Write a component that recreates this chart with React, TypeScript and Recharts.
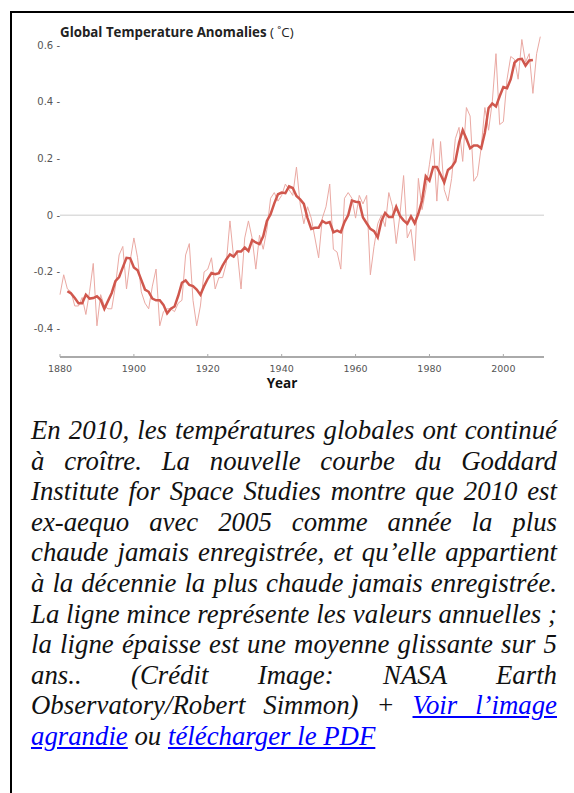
import React from 'react';
import { LineChart, Line, XAxis, YAxis, ReferenceLine } from 'recharts';

const years = [
  1880, 1881, 1882, 1883, 1884, 1885, 1886, 1887, 1888, 1889,
  1890, 1891, 1892, 1893, 1894, 1895, 1896, 1897, 1898, 1899,
  1900, 1901, 1902, 1903, 1904, 1905, 1906, 1907, 1908, 1909,
  1910, 1911, 1912, 1913, 1914, 1915, 1916, 1917, 1918, 1919,
  1920, 1921, 1922, 1923, 1924, 1925, 1926, 1927, 1928, 1929,
  1930, 1931, 1932, 1933, 1934, 1935, 1936, 1937, 1938, 1939,
  1940, 1941, 1942, 1943, 1944, 1945, 1946, 1947, 1948, 1949,
  1950, 1951, 1952, 1953, 1954, 1955, 1956, 1957, 1958, 1959,
  1960, 1961, 1962, 1963, 1964, 1965, 1966, 1967, 1968, 1969,
  1970, 1971, 1972, 1973, 1974, 1975, 1976, 1977, 1978, 1979,
  1980, 1981, 1982, 1983, 1984, 1985, 1986, 1987, 1988, 1989,
  1990, 1991, 1992, 1993, 1994, 1995, 1996, 1997, 1998, 1999,
  2000, 2001, 2002, 2003, 2004, 2005, 2006, 2007, 2008, 2009,
  2010,
];

// annual anomalies (°C)
const annual = [
  -0.28, -0.21, -0.26, -0.27, -0.32, -0.32, -0.29, -0.35, -0.27, -0.17,
  -0.39, -0.28, -0.32, -0.33, -0.33, -0.25, -0.14, -0.11, -0.26, -0.16,
  -0.08, -0.15, -0.27, -0.31, -0.33, -0.25, -0.19, -0.39, -0.34, -0.33,
  -0.33, -0.34, -0.31, -0.30, -0.14, -0.10, -0.30, -0.39, -0.32, -0.20,
  -0.19, -0.15, -0.26, -0.22, -0.22, -0.17, -0.02, -0.15, -0.13, -0.26,
  -0.08, -0.02, -0.08, -0.19, -0.07, -0.12, -0.05, 0.06, 0.08, 0.05,
  0.07, 0.11, 0.09, 0.07, 0.17, 0.04, -0.03, 0.03, -0.01, -0.08,
  -0.15, -0.01, 0.03, 0.11, -0.12, -0.13, -0.19, 0.06, 0.08, 0.06,
  -0.01, 0.07, 0.04, 0.07, -0.21, -0.11, -0.03, 0.0, -0.04, 0.08,
  0.03, -0.10, 0.0, 0.14, -0.08, -0.05, -0.16, 0.13, 0.02, 0.09,
  0.18, 0.27, 0.05, 0.26, 0.09, 0.05, 0.13, 0.27, 0.31, 0.19,
  0.38, 0.35, 0.12, 0.14, 0.24, 0.38, 0.30, 0.40, 0.57, 0.32,
  0.33, 0.48, 0.56, 0.55, 0.48, 0.62, 0.54, 0.57, 0.43, 0.57,
  0.63,
];

// 5-year running mean (°C)
const fiveYear = [
  null, null, -0.268, -0.276, -0.292, -0.31, -0.31, -0.28, -0.294, -0.292,
  -0.286, -0.298, -0.33, -0.302, -0.274, -0.232, -0.218, -0.184, -0.15, -0.152,
  -0.184, -0.194, -0.228, -0.262, -0.27, -0.294, -0.3, -0.3, -0.316, -0.346,
  -0.33, -0.322, -0.284, -0.238, -0.23, -0.246, -0.25, -0.262, -0.28, -0.25,
  -0.224, -0.204, -0.208, -0.204, -0.178, -0.156, -0.138, -0.146, -0.128, -0.128,
  -0.114, -0.126, -0.088, -0.096, -0.102, -0.074, -0.02, 0.004, 0.042, 0.074,
  0.08, 0.078, 0.102, 0.096, 0.068, 0.056, 0.04, -0.01, -0.048, -0.044,
  -0.044, -0.02, -0.028, -0.024, -0.06, -0.054, -0.06, -0.024, 0.0, 0.052,
  0.048, 0.046, -0.008, -0.028, -0.048, -0.056, -0.078, -0.02, 0.008, -0.006,
  -0.006, 0.03, -0.002, -0.018, -0.03, -0.004, -0.028, 0.006, 0.052, 0.138,
  0.122, 0.17, 0.17, 0.144, 0.116, 0.16, 0.17, 0.19, 0.256, 0.3,
  0.27, 0.236, 0.246, 0.246, 0.236, 0.292, 0.378, 0.394, 0.384, 0.42,
  0.452, 0.448, 0.48, 0.538, 0.55, 0.552, 0.528, 0.546, 0.548, null,
  null,
];

const xTicks = [1880, 1900, 1920, 1940, 1960, 1980, 2000];
const yTicks = [-0.4, -0.2, 0, 0.2, 0.4, 0.6];
const yTickLabels = ['-0.4', '-0.2', '0', '0.2', '0.4', '0.6'];

const chartData = years.map((year, i) => ({
  year,
  annual: annual[i],
  mean: fiveYear[i],
}));

const tickFont = '"DejaVu Sans", sans-serif';

const YearTick = (props: any) => {
  const { x, y, payload } = props;
  return (
    <g>
      <line x1={x} x2={x} y1={y - 3} y2={y} stroke="#aaa" strokeWidth={1} />
      <text x={x} y={y + 15} textAnchor="middle" fill="#555" fontSize={9.5} fontFamily={tickFont}>
        {payload.value}
      </text>
    </g>
  );
};

const ValueTick = (props: any) => {
  const { x, y, payload } = props;
  const idx = yTicks.indexOf(payload.value);
  return (
    <text x={x} y={y + 3.5} textAnchor="end" fill="#555" fontSize={10} fontFamily={tickFont}>
      {(idx >= 0 ? yTickLabels[idx] : payload.value) + ' -'}
    </text>
  );
};

const captionLines = [
  'En 2010, les températures globales ont continué',
  'à croître. La nouvelle courbe du Goddard',
  'Institute for Space Studies montre que 2010 est',
  'ex-aequo avec 2005 comme année la plus',
  'chaude jamais enregistrée, et qu’elle appartient',
  'à la décennie la plus chaude jamais enregistrée.',
  'La ligne mince représente les valeurs annuelles ;',
  'la ligne épaisse est une moyenne glissante sur 5',
  'ans..  (Crédit  Image:  NASA  Earth',
];

const linkStyle: React.CSSProperties = { color: '#0000ff', textDecoration: 'underline' };

export default function App() {
  return (
    <div style={{ position: 'relative', width: 574, height: 793, overflow: 'hidden', background: '#fff' }}>
      <style>{'body{margin:0}'}</style>
      <div
        style={{
          position: 'absolute',
          left: 10,
          top: 11,
          width: 620,
          height: 820,
          borderTop: '2px solid #000',
          borderLeft: '2px solid #000',
        }}
      />
      <div style={{ position: 'absolute', left: 0, top: 0 }}>
        <LineChart width={574} height={390} data={chartData} margin={{ top: 31, right: 30, bottom: 0, left: 0 }}>
          <XAxis
            dataKey="year"
            type="number"
            domain={[1880, 2011]}
            ticks={xTicks}
            tick={<YearTick />}
            tickSize={0}
            tickMargin={0}
            axisLine={{ stroke: '#aaa', strokeWidth: 2 }}
            tickLine={false}
            height={33}
          />
          <YAxis
            type="number"
            domain={[-0.5, 0.65]}
            ticks={yTicks}
            tick={<ValueTick />}
            tickSize={0}
            tickMargin={0}
            axisLine={false}
            tickLine={false}
            width={60}
            allowDataOverflow
          />
          <ReferenceLine y={0} stroke="#ddd" strokeWidth={1.5} />
          <Line
            dataKey="annual"
            stroke="#eaa9a3"
            strokeWidth={1}
            dot={false}
            isAnimationActive={false}
          />
          <Line
            dataKey="mean"
            stroke="#d0574d"
            strokeWidth={2.5}
            dot={false}
            isAnimationActive={false}
          />
        </LineChart>
      </div>
      <svg width={574} height={400} style={{ position: 'absolute', left: 0, top: 0, pointerEvents: 'none' }}>
        <text x={60} y={36.5} fontSize={13.3} fontFamily='"Open Sans", sans-serif' fill="#222">
          <tspan fontWeight="bold">Global Temperature Anomalies </tspan>
          <tspan>( ˚C)</tspan>
        </text>
        <text x={282} y={388} textAnchor="middle" fontSize={13.5} fontWeight="bold" fontFamily='"Open Sans", sans-serif' fill="#111">
          Year
        </text>
      </svg>
      <div
        style={{
          position: 'absolute',
          left: 31,
          top: 415,
          width: 526,
          fontFamily: '"Liberation Serif", "Times New Roman", serif',
          fontStyle: 'italic',
          fontSize: 26.8,
          lineHeight: '30.6px',
          color: '#111',
        }}
      >
        {captionLines.map((line) => (
          <div key={line} style={{ textAlign: 'justify', textAlignLast: 'justify', whiteSpace: 'nowrap' }}>
            {line}
          </div>
        ))}
        <div style={{ textAlign: 'justify', textAlignLast: 'justify', whiteSpace: 'nowrap' }}>
          Observatory/Robert Simmon) + <span style={linkStyle}>Voir l’image</span>
        </div>
        <div style={{ whiteSpace: 'nowrap' }}>
          <span style={linkStyle}>agrandie</span> ou <span style={linkStyle}>télécharger le PDF</span>
        </div>
      </div>
    </div>
  );
}
